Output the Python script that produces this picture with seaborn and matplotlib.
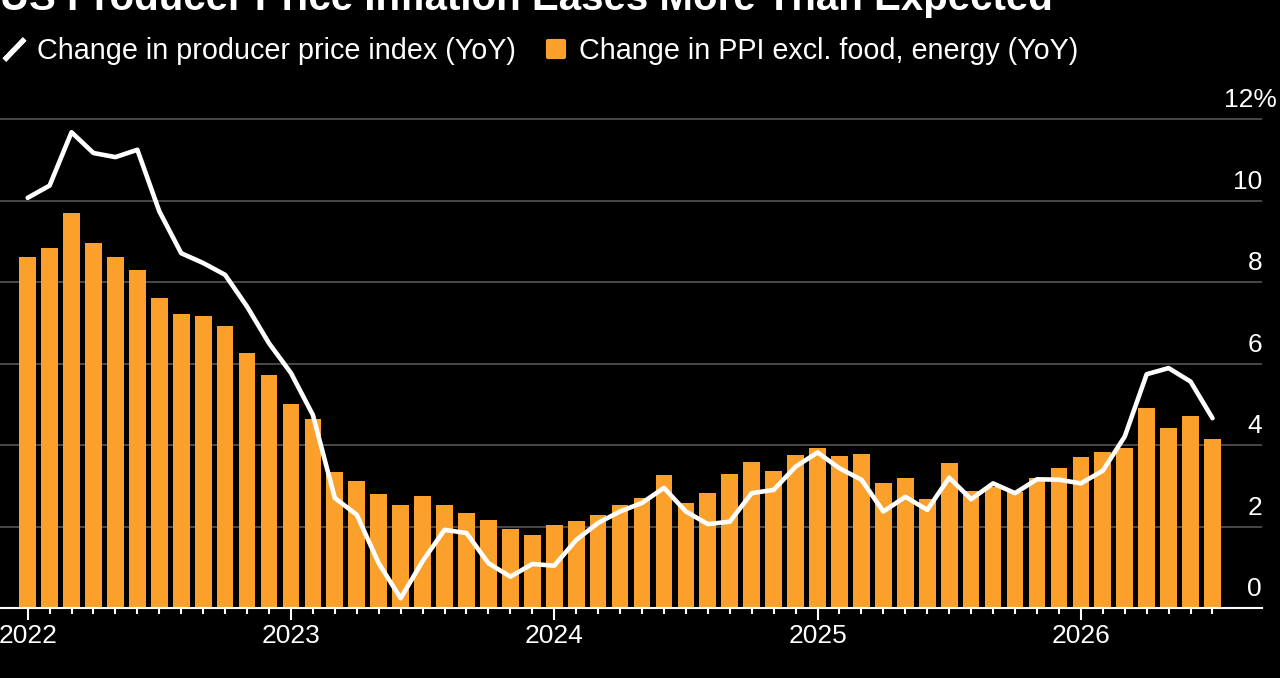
import pandas as pd
import matplotlib.pyplot as plt
from matplotlib.lines import Line2D
from matplotlib.markers import MarkerStyle
import seaborn as sns

# monthly data, Jan 2022 - Jul 2026 (YoY %)
ppi = [10.07, 10.37, 11.68, 11.17, 11.07, 11.25, 9.74, 8.71, 8.47, 8.18, 7.40, 6.50,
       5.77, 4.74, 2.70, 2.29, 1.10, 0.24, 1.15, 1.92, 1.84, 1.10, 0.77, 1.08,
       1.04, 1.67, 2.09, 2.37, 2.58, 2.95, 2.37, 2.06, 2.12, 2.82, 2.90, 3.47,
       3.82, 3.43, 3.15, 2.37, 2.73, 2.41, 3.20, 2.67, 3.06, 2.82, 3.16, 3.15,
       3.06, 3.37, 4.21, 5.74, 5.89, 5.56, 4.66]
core = [8.61, 8.85, 9.70, 8.96, 8.62, 8.30, 7.60, 7.22, 7.17, 6.93, 6.26, 5.71,
        5.02, 4.63, 3.34, 3.11, 2.79, 2.54, 2.74, 2.52, 2.33, 2.15, 1.94, 1.79,
        2.04, 2.14, 2.28, 2.53, 2.70, 3.26, 2.57, 2.82, 3.28, 3.58, 3.37, 3.75,
        3.92, 3.73, 3.78, 3.06, 3.20, 2.68, 3.55, 2.88, 2.98, 2.86, 3.20, 3.43,
        3.71, 3.83, 3.94, 4.92, 4.43, 4.72, 4.15]
years = ['2022', '2023', '2024', '2025', '2026']
year_pos = [0, 12, 24, 36, 48]
y_ticks = [0, 2, 4, 6, 8, 10, 12]

df = pd.DataFrame({'month': range(len(ppi)), 'ppi': ppi, 'core': core})

ORANGE = '#FAA02B'
GRID = '#5c5c5c'

sns.set_style("dark", {"axes.facecolor": "black", "figure.facecolor": "black"})
plt.rcParams['font.family'] = ['Liberation Sans', 'DejaVu Sans']
plt.rcParams['text.color'] = 'white'

fig = plt.figure(figsize=(12.8, 6.78), dpi=100, facecolor='black')
ax = fig.add_axes([0, 0.1032, 0.986, 0.751])
ax.set_facecolor('black')

sns.barplot(data=df, x='month', y='core', color=ORANGE, width=0.76, saturation=1,
            errorbar=None, native_scale=True, ax=ax, zorder=2,
            edgecolor='none', linewidth=0)
sns.lineplot(data=df, x='month', y='ppi', color='white', lw=3.3, ax=ax,
             solid_joinstyle='round', solid_capstyle='round', zorder=3)

ax.set_xlim(-1.26, 56.26)
ax.set_ylim(0, 12.5)

# grid
ax.set_yticks(y_ticks)
ax.yaxis.grid(True, color=GRID, lw=1.1)
ax.xaxis.grid(False)
ax.set_axisbelow(True)
ax.tick_params(axis='y', length=0, labelleft=False, labelright=False)

for s in ['top', 'left', 'right']:
    ax.spines[s].set_visible(False)
ax.spines['bottom'].set_color('white')
ax.spines['bottom'].set_linewidth(1.5)
ax.spines['bottom'].set_zorder(4)

# x ticks
ax.set_xticks(range(len(ppi)), minor=True)
ax.set_xticks(year_pos)
ax.set_xticklabels(years)
ax.tick_params(axis='x', which='major', length=8.6, width=1.5, color='white',
               labelcolor='white', labelsize=19, pad=3, bottom=True)
ax.tick_params(axis='x', which='minor', length=4.3, width=1.5, color='white', bottom=True)
ax.set_xlabel('')
ax.set_ylabel('')

# y labels sit above the gridlines on the right
for v in y_ticks:
    lab = f'{v}%' if v == 12 else str(v)
    dx = 11 if v == 12 else 0
    ax.annotate(lab, xy=(1, v), xycoords=('axes fraction', 'data'),
                xytext=(dx, 8.5), textcoords='offset points',
                ha='right', va='baseline', color='white', fontsize=19)

# title (cut off at top like the source)
fig.text(0.0, 1 - 10 / 678, 'US Producer Price Inflation Eases More Than Expected',
         color='white', fontsize=29, fontweight='bold', va='baseline', ha='left')

# legend
handles = [
    Line2D([], [], lw=0, color='white', marker=(2, 2, -44), markersize=21,
           markeredgewidth=3.6, markeredgecolor='white'),
    Line2D([], [], lw=0, marker=MarkerStyle('s', joinstyle='round'), markersize=11,
           markeredgewidth=3, markerfacecolor=ORANGE, markeredgecolor=ORANGE),
]
labels = ['Change in producer price index (YoY)', 'Change in PPI excl. food, energy (YoY)']
fig.legend(handles, labels, loc='center left', bbox_to_anchor=(0, 1 - 51 / 678),
           ncol=2, frameon=False, fontsize=20.7, labelcolor='white',
           borderaxespad=0, borderpad=0, handlelength=1.0, handletextpad=0.29,
           columnspacing=0.9)

fig.savefig('out.png', dpi=100, facecolor='black')
